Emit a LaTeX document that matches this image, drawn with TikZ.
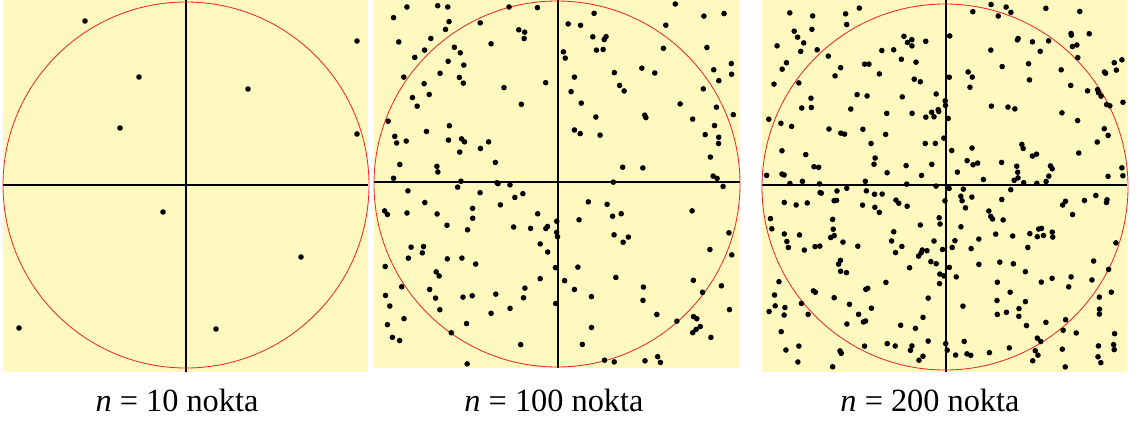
\documentclass[tikz,border=0pt]{standalone}
\usepackage{fontspec}
\setmainfont{Liberation Serif}
\usetikzlibrary{positioning}
\definecolor{panelbg}{RGB}{255,249,192}
\definecolor{circcol}{RGB}{240,40,40}

\begin{document}
\begin{tikzpicture}[x=0.025cm, y=-0.025cm,
    every node/.style={font=\fontsize{23}{27}\selectfont},
    panel/.style={fill=panelbg, draw=none},
    axis/.style={black, line width=0.9pt},
    ring/.style={circcol, line width=0.6pt},
    dot/.style={fill=black}]
  \useasboundingbox (0,0) rectangle (1137,423);
  % panel 1: n = 10
  \fill[panel] (3,0) rectangle (368,372);
  \draw[axis] (186,0) -- (186,372);
  \draw[axis] (3,185) -- (368,185);
  \draw[ring] (186,185) circle[radius=183];
  \foreach \px/\py in {85/21, 357/41, 139/77, 248/89, 120/128,
                       357/134, 163/212, 301/257, 19/328, 216/329}
    \fill[dot] (\px,\py) circle[radius=2.8];
  \node[anchor=base] (lbla) at (177,411) {\textit{n} = 10 nokta};
  % panel 2: n = 100
  \fill[panel] (374,0) rectangle (740,368);
  \draw[axis] (558,0) -- (558,368);
  \draw[axis] (374,182) -- (740,182);
  \draw[ring] (557,184) circle[radius=183];
  \pgfmathsetseed{4127}
  \foreach \i in {1,...,200}{
    \pgfmathsetmacro\px{378+rnd*358}
    \pgfmathsetmacro\py{4+rnd*360}
    \fill[dot] (\px,\py) circle[radius=2.8];
  }
  \node[anchor=base] (lblb) at (554,411) {\textit{n} = 100 nokta};
  % panel 3: n = 200
  \fill[panel] (762,0) rectangle (1127,372);
  \draw[axis] (946,0) -- (946,372);
  \draw[axis] (762,185) -- (1127,185);
  \draw[ring] (945,187) circle[radius=183];
  \pgfmathsetseed{9034}
  \foreach \i in {1,...,340}{
    \pgfmathsetmacro\px{766+rnd*357}
    \pgfmathsetmacro\py{4+rnd*364}
    \fill[dot] (\px,\py) circle[radius=2.8];
  }
  \node[anchor=base] (lblc) at (930,411) {\textit{n} = 200 nokta};
\end{tikzpicture}
\end{document}
